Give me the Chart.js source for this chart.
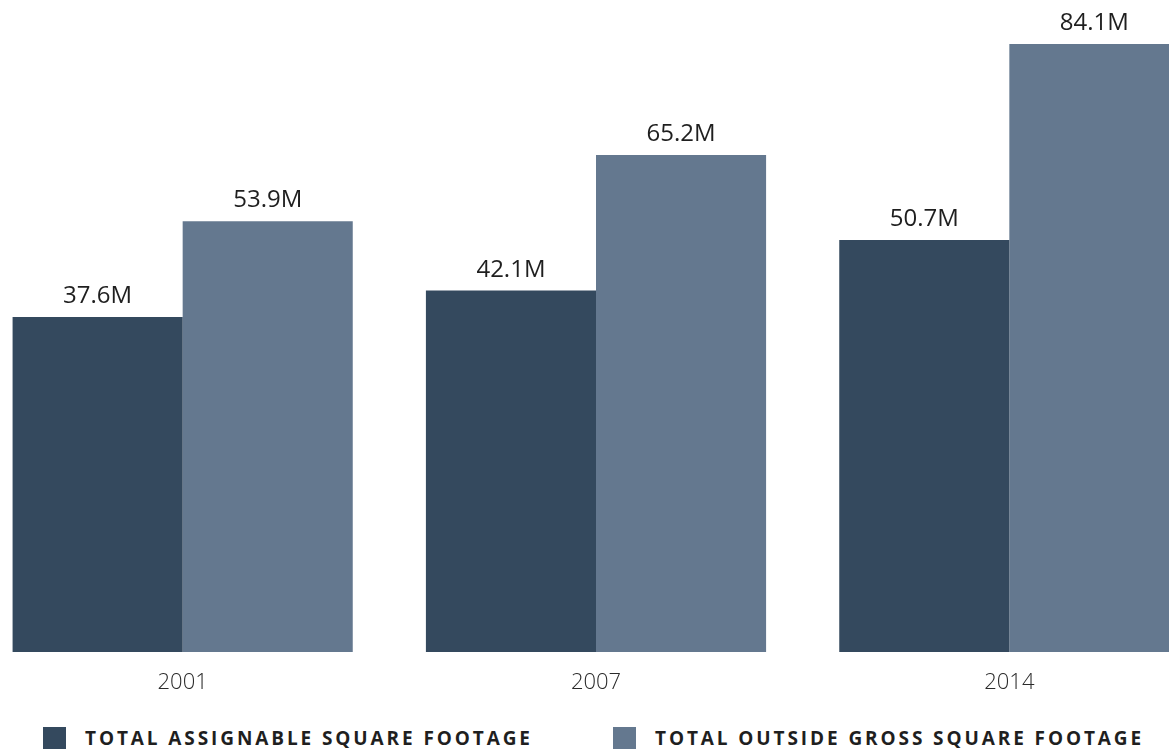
<!DOCTYPE html>
<html>
<head>
<meta charset="utf-8">
<script src="https://cdn.jsdelivr.net/npm/chart.js@4.4.1/dist/chart.umd.min.js"></script>
<style>
  html, body { margin: 0; padding: 0; background: #fff; overflow: hidden; width: 1169px; height: 752px; }
  #chart { position: absolute; left: -24px; top: 0; }
  .legend { position: absolute; top: 727px; display: flex; align-items: center;
            font-family: "Open Sans", sans-serif; font-weight: 700; font-size: 19px;
            letter-spacing: 2.9px; color: #1f1f1f; white-space: nowrap; line-height: 22px; }
  .legend span.box { display: inline-block; width: 23px; height: 22px; margin-right: 19px; }
</style>
</head>
<body>
<canvas id="chart" width="1240" height="710"></canvas>
<div class="legend" style="left:43px"><span class="box" style="background:#34495e"></span>TOTAL ASSIGNABLE SQUARE FOOTAGE</div>
<div class="legend" style="left:613px"><span class="box" style="background:#64788f"></span>TOTAL OUTSIDE GROSS SQUARE FOOTAGE</div>
<script>
// data (millions of sq ft)
const years = ["2001", "2007", "2014"];
const assignable = [37.6, 42.1, 50.7];
const outsideGross = [53.9, 65.2, 84.1];
const seriesNames = ["TOTAL ASSIGNABLE SQUARE FOOTAGE", "TOTAL OUTSIDE GROSS SQUARE FOOTAGE"];

const darkBlue = "#34495e";
const greyBlue = "#64788f";

// the original chart does not start its bars at zero
const axisMin = -19.5;
const axisMax = 89.9;

// value labels over the bars
const valueLabels = {
  id: "valueLabels",
  afterDatasetsDraw(chart) {
    const ctx = chart.ctx;
    ctx.save();
    ctx.font = "400 24px 'Open Sans'";
    ctx.fillStyle = "#1f1f1f";
    ctx.textAlign = "center";
    ctx.textBaseline = "alphabetic";
    chart.data.datasets.forEach((ds, i) => {
      chart.getDatasetMeta(i).data.forEach((bar, j) => {
        ctx.fillText(ds.data[j].toFixed(1) + "M", bar.x, bar.y - 14);
      });
    });
    ctx.restore();
  }
};

new Chart(document.getElementById("chart"), {
  type: "bar",
  data: {
    labels: years,
    datasets: [
      { label: seriesNames[0], data: assignable, backgroundColor: darkBlue, base: axisMin },
      { label: seriesNames[1], data: outsideGross, backgroundColor: greyBlue, base: axisMin }
    ]
  },
  options: {
    responsive: false,
    animation: false,
    categoryPercentage: 0.823,
    barPercentage: 1,
    layout: { padding: { top: 10, left: 0, right: 0, bottom: 0 } },
    plugins: {
      legend: { display: false },
      tooltip: { enabled: false }
    },
    scales: {
      x: {
        grid: { display: false },
        border: { display: false },
        ticks: {
          color: "#2a2a2a",
          padding: 10,
          font: { family: "'Open Sans'", size: 22, weight: 300 }
        },
        afterFit(scale) { scale.height = 58; }
      },
      y: {
        display: false,
        min: axisMin,
        max: axisMax
      }
    }
  },
  plugins: [valueLabels]
});
</script>
</body>
</html>
